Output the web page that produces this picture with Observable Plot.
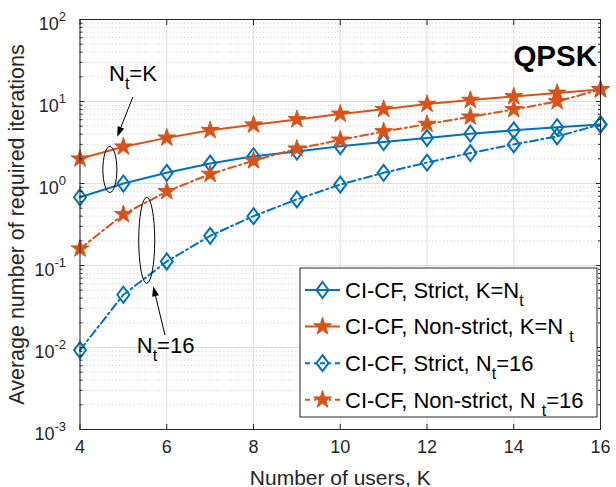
<!DOCTYPE html>
<html><head><meta charset="utf-8">
<script src="https://cdn.jsdelivr.net/npm/d3@7"></script>
<script src="https://cdn.jsdelivr.net/npm/@observablehq/plot@0.6"></script>
<style>html,body{margin:0;padding:0;background:#fff}</style>
</head><body><div id="chart"></div>
<script>
// ---- data ----
const K = [4, 5, 6, 7, 8, 9, 10, 11, 12, 13, 14, 15, 16];
const strictKNt     = [0.68, 1.0, 1.35, 1.75, 2.15, 2.45, 2.85, 3.2, 3.6, 4.05, 4.45, 4.85, 5.25];
const nonStrictKNt  = [2.0, 2.8, 3.6, 4.45, 5.2, 6.05, 7.05, 8.05, 9.3, 10.4, 11.5, 12.7, 14.0];
const strictNt16    = [0.0093, 0.044, 0.112, 0.23, 0.40, 0.64, 0.97, 1.35, 1.8, 2.35, 3.0, 3.75, 5.25];
const nonStrictNt16 = [0.16, 0.42, 0.8, 1.3, 1.9, 2.65, 3.4, 4.3, 5.3, 6.5, 8.0, 10.0, 14.0];
const seriesNames = ["CI-CF, Strict, K=N|t", "CI-CF, Non-strict, K=N |t", "CI-CF, Strict, N|t|=16", "CI-CF, Non-strict, N |t|=16"];
const xTicks = [4, 6, 8, 10, 12, 14, 16];
const yDecades = [1e-3, 1e-2, 1e-1, 1, 10, 100];
const yExponents = [-3, -2, -1, 0, 1, 2];
const yMinor = yExponents.slice(0, -1).flatMap(e => [2,3,4,5,6,7,8,9].map(m => m * Math.pow(10, e)));

const BLUE = "#0072BD", ORANGE = "#D95319";
const DASHDOT = "8,3.5,2,3.5";

const series = [
  {name: seriesNames[0], values: strictKNt, color: BLUE, marker: "diamond", dash: null},
  {name: seriesNames[1], values: nonStrictKNt, color: ORANGE, marker: "star", dash: null},
  {name: seriesNames[2], values: strictNt16, color: BLUE, marker: "diamond", dash: DASHDOT},
  {name: seriesNames[3], values: nonStrictNt16, color: ORANGE, marker: "star", dash: DASHDOT}
];
const rows = series.flatMap((s, i) => K.map((k, j) => ({k, v: s.values[j], s: i})));

// ---- symbols ----
const diamond = {draw(ctx) { const w = 6, h = 8; ctx.moveTo(0, -h); ctx.lineTo(w, 0); ctx.lineTo(0, h); ctx.lineTo(-w, 0); ctx.closePath(); }};
const star = {draw(ctx) { const R = 9.3, r = R * 0.382; for (let i = 0; i < 10; i++) { const a = -Math.PI / 2 + i * Math.PI / 5, rr = i % 2 ? r : R; if (i) ctx.lineTo(rr * Math.cos(a), rr * Math.sin(a)); else ctx.moveTo(rr * Math.cos(a), rr * Math.sin(a)); } ctx.closePath(); }};

const marks = [
  Plot.gridY(yMinor, {stroke: "#bdbdbd", strokeOpacity: 1, strokeWidth: 0.8, strokeDasharray: "1,2.6"}),
  Plot.gridY(yDecades, {stroke: "#dedede", strokeOpacity: 1}),
  Plot.gridX(xTicks, {stroke: "#dedede", strokeOpacity: 1})
];
series.forEach((s, i) => {
  const d = rows.filter(r => r.s === i);
  marks.push(Plot.line(d, {x: "k", y: "v", stroke: s.color, strokeWidth: 2, strokeDasharray: s.dash}));
  if (s.marker === "diamond")
    marks.push(Plot.dot(d, {x: "k", y: "v", symbol: diamond, stroke: s.color, strokeWidth: 2, fill: "none", r: 5}));
  else
    marks.push(Plot.dot(d, {x: "k", y: "v", symbol: star, stroke: s.color, strokeWidth: 1, fill: s.color, r: 5}));
});
marks.push(
  Plot.frame({stroke: "#262626", strokeWidth: 1}),
  // inward ticks
  Plot.axisX(xTicks, {anchor: "bottom", tickSize: -5, fill: "none", stroke: "#262626", label: null}),
  Plot.axisX(xTicks, {anchor: "top", tickSize: -5, fill: "none", stroke: "#262626", label: null}),
  Plot.axisY(yDecades, {anchor: "left", tickSize: -5, fill: "none", stroke: "#262626", label: null}),
  Plot.axisY(yDecades, {anchor: "right", tickSize: -5, fill: "none", stroke: "#262626", label: null}),
  Plot.axisY(yMinor, {anchor: "left", tickSize: -3, fill: "none", stroke: "#262626", label: null}),
  Plot.axisY(yMinor, {anchor: "right", tickSize: -3, fill: "none", stroke: "#262626", label: null}),
  // labels
  Plot.axisX(xTicks, {anchor: "bottom", tickSize: 0, tickPadding: 11, fontSize: 18, fill: "#262626", label: null}),
  Plot.axisX([], {anchor: "bottom", tickSize: 0, fontSize: 21, fill: "#262626", label: "Number of users, K", labelAnchor: "center", labelArrow: "none", labelOffset: 55}),
  Plot.axisY(yDecades, {anchor: "left", tickSize: 0, tickPadding: 14, dy: 5, fontSize: 18, fill: "#262626", label: null, tickFormat: d => "10^" + Math.round(Math.log10(d))}),
  Plot.axisY([], {anchor: "left", tickSize: 0, fontSize: 21.5, fill: "#262626", label: "Average number of required iterations", labelAnchor: "center", labelArrow: "none", labelOffset: 71})
);

const chart = Plot.plot({
  width: 616, height: 487,
  marginLeft: 79.5, marginRight: 16, marginTop: 19, marginBottom: 58,
  style: {fontFamily: "'Liberation Sans', Arial, sans-serif", background: "#fff", overflow: "visible"},
  x: {domain: [4, 16]},
  y: {type: "log", domain: [1e-3, 1e2]},
  marks
});
document.getElementById("chart").appendChild(chart);

const svg = d3.select(chart);
// superscript exponents
svg.selectAll('g[aria-label="y-axis tick label"] text').each(function () {
  const parts = this.textContent.split("^");
  const t = d3.select(this);
  t.text(parts[0]);
  t.append("tspan").attr("dy", -9).attr("font-size", 13).text(parts[1]);
});

const sx = chart.scale("x"), sy = chart.scale("y");
const X = v => sx.apply(v), Y = v => sy.apply(v);
const FONT = "'Liberation Sans', Arial, sans-serif";

// text with subscripts: "a|sub|b"
function richText(g, x, y, str, size, sub) {
  const parts = str.split("|");
  const t = g.append("text").attr("x", x).attr("y", y).attr("font-size", size).attr("font-family", FONT)
    .attr("fill", "#000").attr("text-anchor", "start");
  parts.forEach((p, i) => {
    if (i % 2 === 1) t.append("tspan").attr("dy", 8).attr("font-size", sub).text(p);
    else if (i > 0) t.append("tspan").attr("dy", -8).text(p);
    else t.append("tspan").text(p);
  });
  return t;
}

// ---- annotations ----
const ann = svg.append("g").attr("fill", "none").attr("stroke", "#000").attr("stroke-width", 1);
ann.append("ellipse").attr("cx", X(4.7)).attr("cy", Y(1.46)).attr("rx", 7).attr("ry", 23);
ann.append("ellipse").attr("cx", X(5.55)).attr("cy", Y(0.2)).attr("rx", 8).attr("ry", 43);
function arrow(x1, y1, x2, y2) {
  const ang = Math.atan2(y2 - y1, x2 - x1), L = 10, Wd = 3.5;
  const bx = x2 - L * Math.cos(ang), by = y2 - L * Math.sin(ang);
  ann.append("line").attr("x1", x1).attr("y1", y1).attr("x2", bx).attr("y2", by);
  ann.append("path").attr("fill", "#000").attr("stroke", "none")
    .attr("d", `M${x2},${y2}L${bx - Wd * Math.sin(ang)},${by + Wd * Math.cos(ang)}L${bx + Wd * Math.sin(ang)},${by - Wd * Math.cos(ang)}Z`);
}
arrow(X(5.23), Y(11.2), X(4.87), Y(3.67));
arrow(X(5.97), Y(0.014), X(5.70), Y(0.055));
const annText = svg.append("g");
richText(annText, X(4.68), Y(17.5), "N|t|=K", 22, 16);
richText(annText, X(5.32), Y(0.0085), "N|t|=16", 22, 16);
annText.append("text").attr("x", 597).attr("y", 66).attr("text-anchor", "end").attr("font-size", 29.5).attr("font-weight", "bold").attr("font-family", FONT).text("QPSK");

// ---- legend ----
const lg = svg.append("g");
lg.append("rect").attr("x", 300).attr("y", 268).attr("width", 297).attr("height", 149).attr("fill", "#fff").attr("stroke", "#262626").attr("stroke-width", 1);
series.forEach((s, i) => {
  const cy = 290 + i * 36.6;
  lg.append("line").attr("x1", 305).attr("x2", 340).attr("y1", cy).attr("y2", cy).attr("stroke", s.color).attr("stroke-width", 2).attr("stroke-dasharray", s.dash ? "5,4,2,4" : null);
  const sym = s.marker === "diamond" ? diamond : star;
  const p = d3.path(); sym.draw(p);
  lg.append("path").attr("transform", `translate(322.5,${cy})`).attr("d", p.toString())
    .attr("fill", s.marker === "diamond" ? "none" : s.color).attr("stroke", s.color).attr("stroke-width", s.marker === "diamond" ? 2 : 1);
  richText(lg, 345, cy + 7.8, s.name, 22, 16);
});
</script>
</body></html>
